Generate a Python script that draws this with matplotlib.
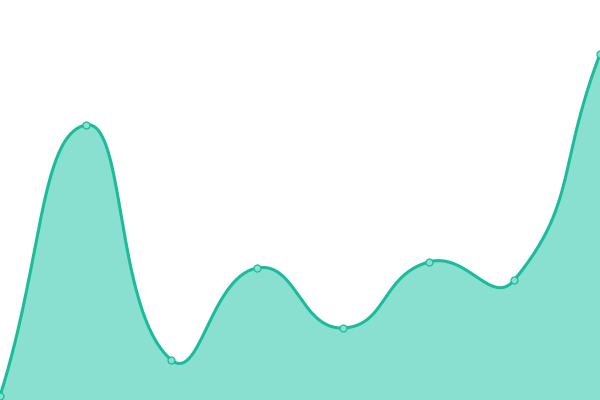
import numpy as np
import matplotlib
matplotlib.use('Agg')
import matplotlib.pyplot as plt

# values (baseline at the bottom edge)
categories = ["A", "B", "C", "D", "E", "F", "G", "H"]
values = [4, 275, 40, 132, 72, 138, 120, 346]

LINE_COLOR = "#1abc9c"
FILL_COLOR = "#89e0d0"
SMOOTH = 0.5
X_SCALE = 600 / 7  # px per category step, so smoothing works in screen-like space


def smooth_path(xs, ys, smooth=SMOOTH, steps=60):
    # bezier smoothing like echarts' smooth line
    px = np.asarray(xs, float) * X_SCALE
    py = np.asarray(ys, float)
    n = len(px)
    cps = []
    for i in range(n):
        prev = i - 1 if i > 0 else i
        nxt = i + 1 if i < n - 1 else i
        vx = (px[nxt] - px[prev]) * smooth
        vy = (py[nxt] - py[prev]) * smooth
        d0 = np.hypot(px[i] - px[prev], py[i] - py[prev])
        d1 = np.hypot(px[nxt] - px[i], py[nxt] - py[i])
        s = d0 + d1 if d0 + d1 > 0 else 1
        cps.append(((px[i] - vx * d0 / s, py[i] - vy * d0 / s),
                    (px[i] + vx * d1 / s, py[i] + vy * d1 / s)))
    out_x, out_y = [], []
    t = np.linspace(0, 1, steps)
    for i in range(n - 1):
        p0 = (px[i], py[i])
        c1 = cps[i][1]
        c2 = cps[i + 1][0]
        p3 = (px[i + 1], py[i + 1])
        bx = (1 - t) ** 3 * p0[0] + 3 * (1 - t) ** 2 * t * c1[0] + 3 * (1 - t) * t ** 2 * c2[0] + t ** 3 * p3[0]
        by = (1 - t) ** 3 * p0[1] + 3 * (1 - t) ** 2 * t * c1[1] + 3 * (1 - t) * t ** 2 * c2[1] + t ** 3 * p3[1]
        out_x.extend(bx)
        out_y.extend(by)
    return np.array(out_x) / X_SCALE, np.array(out_y)


x = np.arange(len(categories))
sx, sy = smooth_path(x, values)

fig = plt.figure(figsize=(6, 4), dpi=100)
ax = fig.add_axes([0, 0, 1, 1])
ax.fill_between(sx, sy, 0, color=FILL_COLOR, linewidth=0)
ax.plot(sx, sy, color=LINE_COLOR, linewidth=2.2, solid_capstyle='round')
ax.plot(x, values, 'o', markersize=5, markerfacecolor=FILL_COLOR,
        markeredgecolor=LINE_COLOR, markeredgewidth=0.9, clip_on=False)

ax.set_xlim(0, len(categories) - 1)
ax.set_ylim(0, 400)
ax.axis('off')

plt.savefig("out.png", dpi=100)
